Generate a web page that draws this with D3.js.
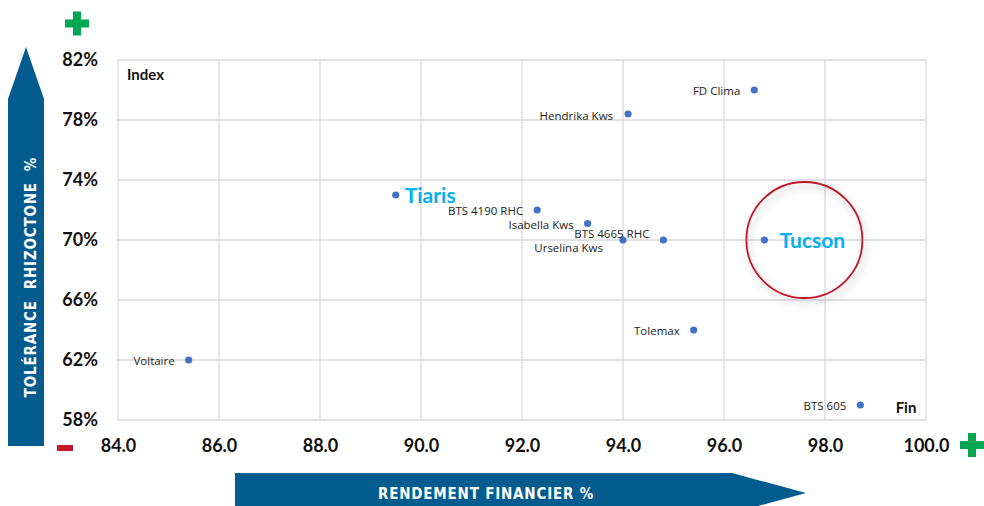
<!DOCTYPE html>
<html>
<head>
<meta charset="utf-8">
<script src="https://cdn.jsdelivr.net/npm/d3@7"></script>
<style>
  html, body { margin: 0; padding: 0; background: #fff; }
  svg { display: block; }
</style>
</head>
<body>
<svg id="chart"></svg>
<script>
// varieties: rendement financier (x) vs tolerance rhizoctone (y)
const varieties = ["FD Clima", "Hendrika Kws", "Tiaris", "BTS 4190 RHC", "Isabella Kws",
  "Urselina Kws", "BTS 4665 RHC", "Tucson", "Tolemax", "BTS 605", "Voltaire"];
const rendement = [96.6, 94.1, 89.5, 92.3, 93.3, 94.0, 94.8, 96.8, 95.4, 98.7, 85.4];
const tolerance = [80.0, 78.4, 73.0, 72.0, 71.1, 70.0, 70.0, 70.0, 64.0, 59.0, 62.0];
const highlighted = ["Tiaris", "Tucson"];

const xTicks = [84, 86, 88, 90, 92, 94, 96, 98, 100];
const yTicks = [58, 62, 66, 70, 74, 78, 82];

// label placement relative to the point (layout only)
const labelOffset = {
  "BTS 4665 RHC": [-14, -6],
  "Urselina Kws": [-20, 8],
  "Hendrika Kws": [-15, 2],
  "Tiaris": [9, 1],
  "Tucson": [15, 1]
};

const W = 984, H = 506;
const blue = "#045B8E", green = "#00A651", red = "#C0182A", cyan = "#00B0F0";

const svg = d3.select("#chart").attr("width", W).attr("height", H);

const x = d3.scaleLinear().domain([84, 100]).range([118, 926]);
const y = d3.scaleLinear().domain([58, 82]).range([420, 60]);

const defs = svg.append("defs");
const shadow = defs.append("filter").attr("id", "shadow")
  .attr("x", "-30%").attr("y", "-30%").attr("width", "160%").attr("height", "160%");
shadow.append("feDropShadow").attr("dx", 2).attr("dy", 4).attr("stdDeviation", 4)
  .attr("flood-color", "#000").attr("flood-opacity", 0.3);

// grid
const grid = svg.append("g");
grid.selectAll("line.v").data(xTicks).join("line")
  .attr("x1", d => x(d)).attr("x2", d => x(d))
  .attr("y1", y(82)).attr("y2", y(58))
  .attr("stroke", "#D9D9D9").attr("stroke-width", 1.3);
grid.selectAll("line.h").data(yTicks).join("line")
  .attr("y1", d => y(d)).attr("y2", d => y(d))
  .attr("x1", x(84)).attr("x2", x(100))
  .attr("stroke", "#D9D9D9").attr("stroke-width", 1.3);

// axes
const yAxis = svg.append("g").attr("transform", `translate(${x(84)},0)`)
  .call(d3.axisLeft(y).tickValues(yTicks).tickSize(0).tickPadding(20).tickFormat(d => d + "%"));
const xAxis = svg.append("g").attr("transform", `translate(0,${y(58)})`)
  .call(d3.axisBottom(x).tickValues(xTicks).tickSize(0).tickFormat(d3.format(".1f")));
[yAxis, xAxis].forEach(a => {
  a.select(".domain").remove();
  a.selectAll("text").attr("font-family", "Lato, 'Open Sans', sans-serif")
    .attr("font-weight", "bold").attr("font-size", 18).attr("fill", "#111");
});
xAxis.selectAll("text").attr("y", 26).attr("dy", "0.35em");

// corner labels
svg.append("text").attr("x", 127).attr("y", 75).attr("dy", "0.35em")
  .attr("font-family", "Lato, sans-serif").attr("font-weight", "bold").attr("font-size", 15)
  .attr("fill", "#111").text("Index");
svg.append("text").attr("x", 906).attr("y", 408).attr("dy", "0.35em").attr("text-anchor", "middle")
  .attr("font-family", "Lato, sans-serif").attr("font-weight", "bold").attr("font-size", 15)
  .attr("fill", "#111").text("Fin");

// circle around Tucson
const iT = varieties.indexOf("Tucson");
svg.append("circle")
  .attr("cx", x(rendement[iT]) + 40).attr("cy", y(tolerance[iT]))
  .attr("r", 58).attr("fill", "none").attr("stroke", red).attr("stroke-width", 1.8)
  .attr("filter", "url(#shadow)");

// points
const pts = varieties.map((name, i) => ({ name, rx: rendement[i], ty: tolerance[i] }));
svg.append("g").selectAll("circle").data(pts).join("circle")
  .attr("cx", d => x(d.rx)).attr("cy", d => y(d.ty)).attr("r", 3.6)
  .attr("fill", "#4472C4");

// labels
svg.append("g").selectAll("text").data(pts).join("text")
  .each(function (d) {
    const big = highlighted.includes(d.name);
    const off = labelOffset[d.name] || [-14, 1];
    d3.select(this)
      .attr("x", x(d.rx) + off[0]).attr("y", y(d.ty) + off[1]).attr("dy", "0.35em")
      .attr("text-anchor", big ? "start" : "end")
      .attr("font-family", big ? "Lato, sans-serif" : "'Open Sans', sans-serif")
      .attr("font-weight", big ? "bold" : "normal")
      .attr("font-size", big ? 21 : 11.5)
      .attr("fill", big ? cyan : "#222")
      .text(d.name);
  });

// vertical arrow (tolerance)
svg.append("path")
  .attr("d", "M8,446 L8,99 L26,47 L44,99 L44,446 Z")
  .attr("fill", blue);
svg.append("text")
  .attr("transform", "translate(31,277) rotate(-90)")
  .attr("text-anchor", "middle").attr("dy", "0.35em")
  .attr("font-family", "'DejaVu Sans Condensed', 'DejaVu Sans', sans-serif")
  .attr("font-stretch", "condensed")
  .attr("font-weight", "bold").attr("font-size", 15).attr("fill", "#fff")
  .attr("letter-spacing", 0.8)
  .style("white-space", "pre")
  .text("TOLÉRANCE  RHIZOCTONE  %");

// horizontal arrow (rendement)
svg.append("path")
  .attr("d", "M235,473 L732,473 L806,493 L732,513 L235,513 Z")
  .attr("fill", blue);
svg.append("text")
  .attr("x", 486).attr("y", 494).attr("dy", "0.35em").attr("text-anchor", "middle")
  .attr("font-family", "'DejaVu Sans Condensed', 'DejaVu Sans', sans-serif")
  .attr("font-stretch", "condensed")
  .attr("font-weight", "bold").attr("font-size", 15).attr("fill", "#fff")
  .attr("letter-spacing", 0.8)
  .text("RENDEMENT FINANCIER %");

// plus / minus signs
function plus(cx, cy) {
  svg.append("rect").attr("x", cx - 12).attr("y", cy - 4).attr("width", 24).attr("height", 8).attr("fill", green);
  svg.append("rect").attr("x", cx - 4).attr("y", cy - 12).attr("width", 8).attr("height", 24).attr("fill", green);
}
plus(77, 23.5);
plus(972, 445);
svg.append("rect").attr("x", 57).attr("y", 445).attr("width", 16).attr("height", 6).attr("fill", red);
</script>
</body>
</html>
